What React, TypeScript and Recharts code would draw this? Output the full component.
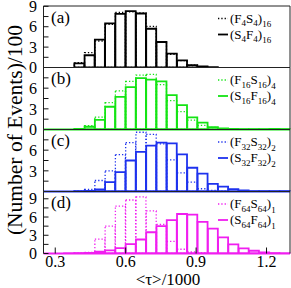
import React from 'react';
import { ComposedChart, Bar, XAxis, YAxis } from 'recharts';

// bin centres of <tau>/1000 (24 bins from 0.25 to 1.30)
const binCenters = [
  0.271875, 0.315625, 0.359375, 0.403125, 0.446875, 0.490625, 0.534375, 0.578125,
  0.621875, 0.665625, 0.709375, 0.753125, 0.796875, 0.840625, 0.884375, 0.928125,
  0.971875, 1.015625, 1.059375, 1.103125, 1.146875, 1.190625, 1.234375, 1.278125,
];

// (a) (F4S4)16 dotted, (S4F4)16 solid
const aDotted = [0, 0, 0, 0.7, 2.2, 3.9, 6.35, 8.1, 8.2, 8.05, 6.05, 3.7, 1.95, 1.0, 0.35, 0.1, 0, 0, 0, 0, 0, 0, 0, 0];
const aSolid = [0, 0, 0, 0.6, 1.8, 4.1, 6.5, 7.9, 8.3, 7.95, 5.7, 3.75, 2.05, 1.05, 0.35, 0.15, 0.05, 0, 0, 0, 0, 0, 0, 0];
// (b) (F16S16)4 dotted, (S16F16)4 solid
const bDotted = [0, 0, 0, 0.1, 0.55, 1.8, 3.9, 5.6, 7.0, 7.9, 8.0, 6.5, 4.2, 2.6, 1.35, 0.6, 0.3, 0.1, 0, 0, 0, 0, 0, 0];
const bSolid = [0, 0, 0, 0.1, 0.4, 1.4, 3.3, 4.75, 6.15, 7.45, 7.25, 7.0, 5.0, 3.55, 1.75, 1.0, 0.35, 0.15, 0.1, 0.05, 0.05, 0.05, 0.1, 0.05];
// (c) (F32S32)2 dotted, (S32F32)2 solid
const cDotted = [0, 0, 0, 0.05, 0.3, 1.6, 3.0, 5.35, 7.1, 8.6, 8.3, 6.9, 4.6, 2.7, 1.35, 0.4, 0.15, 0.05, 0, 0, 0, 0, 0, 0];
const cSolid = [0, 0, 0, 0.05, 0.1, 0.3, 1.35, 2.8, 4.5, 5.75, 6.65, 7.1, 7.0, 5.4, 3.45, 2.6, 1.1, 0.7, 0.35, 0.15, 0.05, 0.05, 0.05, 0.05];
// (d) (F64S64)1 dotted, (S64F64)1 solid
const dDotted = [0, 0, 0, 0.05, 0.2, 2.35, 4.5, 7.8, 8.8, 9.3, 7.0, 4.8, 2.0, 0.7, 0.25, 0.1, 0, 0, 0, 0, 0, 0, 0, 0];
const dSolid = [0, 0, 0.03, 0.05, 0.1, 0.3, 0.5, 0.9, 1.55, 2.3, 3.5, 4.5, 5.5, 6.5, 6.4, 5.2, 4.1, 2.65, 1.5, 0.85, 0.45, 0.2, 0.05, 0.03];

const xTicks = [0.3, 0.6, 0.9, 1.2];
const panelLabels = ['(a)', '(b)', '(c)', '(d)'];
const legendSizes = [['4', '16'], ['16', '4'], ['32', '2'], ['64', '1']];
// y tick labels shown in each panel
const yLabelSets = [[0, 3, 6, 9], [0, 3, 6], [3, 6], [0, 3, 6, 9]];

const FONT = 'Liberation Serif, Times New Roman, serif';
const W = 291;
const H = 288;
const PLOT_LEFT = 43.5;

const panels = [
  { dotted: aDotted, solid: aSolid, color: '#000000', top: 6, bottom: 67.5, yMax: 9.05, yTicks: [0, 1.5, 3, 4.5, 6, 7.5, 9], base: '#000000', baseW: 1 },
  { dotted: bDotted, solid: bSolid, color: '#14e414', top: 67.5, bottom: 129.5, yMax: 9, yTicks: [0, 1.5, 3, 4.5, 6, 7.5], base: '#14e414', baseW: 1.8 },
  { dotted: cDotted, solid: cSolid, color: '#1e32ee', top: 129.5, bottom: 191.5, yMax: 9, yTicks: [0, 1.5, 3, 4.5, 6, 7.5], base: '#1e32ee', baseW: 1.8 },
  { dotted: dDotted, solid: dSolid, color: '#f01ef0', top: 191.5, bottom: 253.5, yMax: 10.2, yTicks: [0, 1.5, 3, 4.5, 6, 7.5, 9], base: '#f01ef0', baseW: 1.8 },
];

function Panel({ p, idx }: { p: any; idx: number }) {
  const rows = binCenters.map((b, i) => ({ bin: b, dot: p.dotted[i], sol: p.solid[i] }));
  const isBottom = idx === 3;
  const shown = yLabelSets[idx];
  const fmtY = (v: number) => (shown.includes(v) ? String(v) : '');
  return (
    <div style={{ position: 'absolute', left: 0, top: 0 }}>
      <ComposedChart
        width={W}
        height={H}
        data={rows}
        margin={{ top: p.top - 1, right: 0, bottom: H - p.bottom - 1, left: 0 }}
        barCategoryGap={0}
        barGap={0}
      >
        <XAxis
          xAxisId="num"
          dataKey="bin"
          type="number"
          domain={[0.25, 1.3]}
          allowDataOverflow
          ticks={xTicks}
          interval={0}
          height={1}
          axisLine={{ stroke: p.base, strokeWidth: p.baseW }}
          tickLine={{ stroke: '#111', strokeWidth: 1 }}
          tickSize={-6}
          tickMargin={8.5}
          tick={isBottom ? { fontFamily: FONT, fontSize: 16, fill: '#000' } : false}
        />
        <XAxis xAxisId="sol" dataKey="bin" type="category" hide height={0} />
        <XAxis xAxisId="dot" dataKey="bin" type="category" hide height={0} />
        <XAxis
          xAxisId="top"
          orientation="top"
          dataKey="bin"
          type="number"
          domain={[0.25, 1.3]}
          allowDataOverflow
          height={1}
          tick={false}
          tickLine={false}
          axisLine={{ stroke: '#222', strokeWidth: 1 }}
        />
        <YAxis
          yAxisId="l"
          width={PLOT_LEFT}
          type="number"
          domain={[0, p.yMax]}
          allowDataOverflow
          ticks={p.yTicks}
          interval={0}
          tickFormatter={fmtY}
          tickSize={-5}
          tickMargin={11.5}
          axisLine={{ stroke: '#222', strokeWidth: 1 }}
          tickLine={{ stroke: '#111', strokeWidth: 1 }}
          tick={{ fontFamily: FONT, fontSize: 16, fill: '#000' }}
        />
        <YAxis
          yAxisId="r"
          orientation="right"
          width={1}
          type="number"
          domain={[0, p.yMax]}
          allowDataOverflow
          tick={false}
          tickLine={false}
          axisLine={{ stroke: '#222', strokeWidth: 1 }}
        />
        <Bar
          xAxisId="dot"
          yAxisId="l"
          dataKey="dot"
          fill="none"
          stroke={p.color}
          strokeWidth={1.3}
          strokeDasharray="1.3 2"
          isAnimationActive={false}
        />
        <Bar
          xAxisId="sol"
          yAxisId="l"
          dataKey="sol"
          fill="none"
          stroke={p.color}
          strokeWidth={1.8}
          isAnimationActive={false}
        />
      </ComposedChart>
    </div>
  );
}

function Formula({ x, y, a, b, n, m }: { x: number; y: number; a: string; b: string; n: string; m: string }) {
  return (
    <text x={x} y={y} fontFamily={FONT} fontSize={13} fill="#000">
      <tspan>(</tspan>
      <tspan>{a}</tspan>
      <tspan fontSize={9} dy={3.5}>{n}</tspan>
      <tspan dy={-3.5}>{b}</tspan>
      <tspan fontSize={9} dy={3.5}>{n}</tspan>
      <tspan dy={-3.5}>)</tspan>
      <tspan fontSize={9} dy={4.5}>{m}</tspan>
    </text>
  );
}

function Overlay() {
  return (
    <svg width={W} height={H} style={{ position: 'absolute', left: 0, top: 0 }}>
      {panels.map((p, i) => {
        const [n, m] = legendSizes[i];
        const y1 = p.top + 16.5;
        const y2 = p.top + 32.5;
        return (
          <g key={i}>
            <text x={51} y={p.top + 16.5} fontFamily={FONT} fontSize={17} fill="#000">
              {panelLabels[i]}
            </text>
            <line x1={218} x2={228} y1={y1 - 4} y2={y1 - 4} stroke={p.color} strokeWidth={1.3} strokeDasharray="1.3 2" />
            <Formula x={230} y={y1} a="F" b="S" n={n} m={m} />
            <line x1={218} x2={228} y1={y2 - 4} y2={y2 - 4} stroke={p.color} strokeWidth={1.8} />
            <Formula x={230} y={y2} a="S" b="F" n={n} m={m} />
          </g>
        );
      })}
      <text x={168} y={285} textAnchor="middle" fontFamily={FONT} fontSize={17} fill="#000">
        {'<τ>/1000'}
      </text>
      <text
        x={22}
        y={130}
        textAnchor="middle"
        transform="rotate(-90, 22, 130)"
        fontFamily={FONT}
        fontSize={21.5}
        fill="#000"
      >
        (Number of Events)/100
      </text>
    </svg>
  );
}

export default function App() {
  return (
    <div style={{ position: 'absolute', left: 0, top: 0, width: W, height: H, background: '#fff' }}>
      {panels.map((p, i) => (
        <Panel key={i} p={p} idx={i} />
      ))}
      <Overlay />
    </div>
  );
}
